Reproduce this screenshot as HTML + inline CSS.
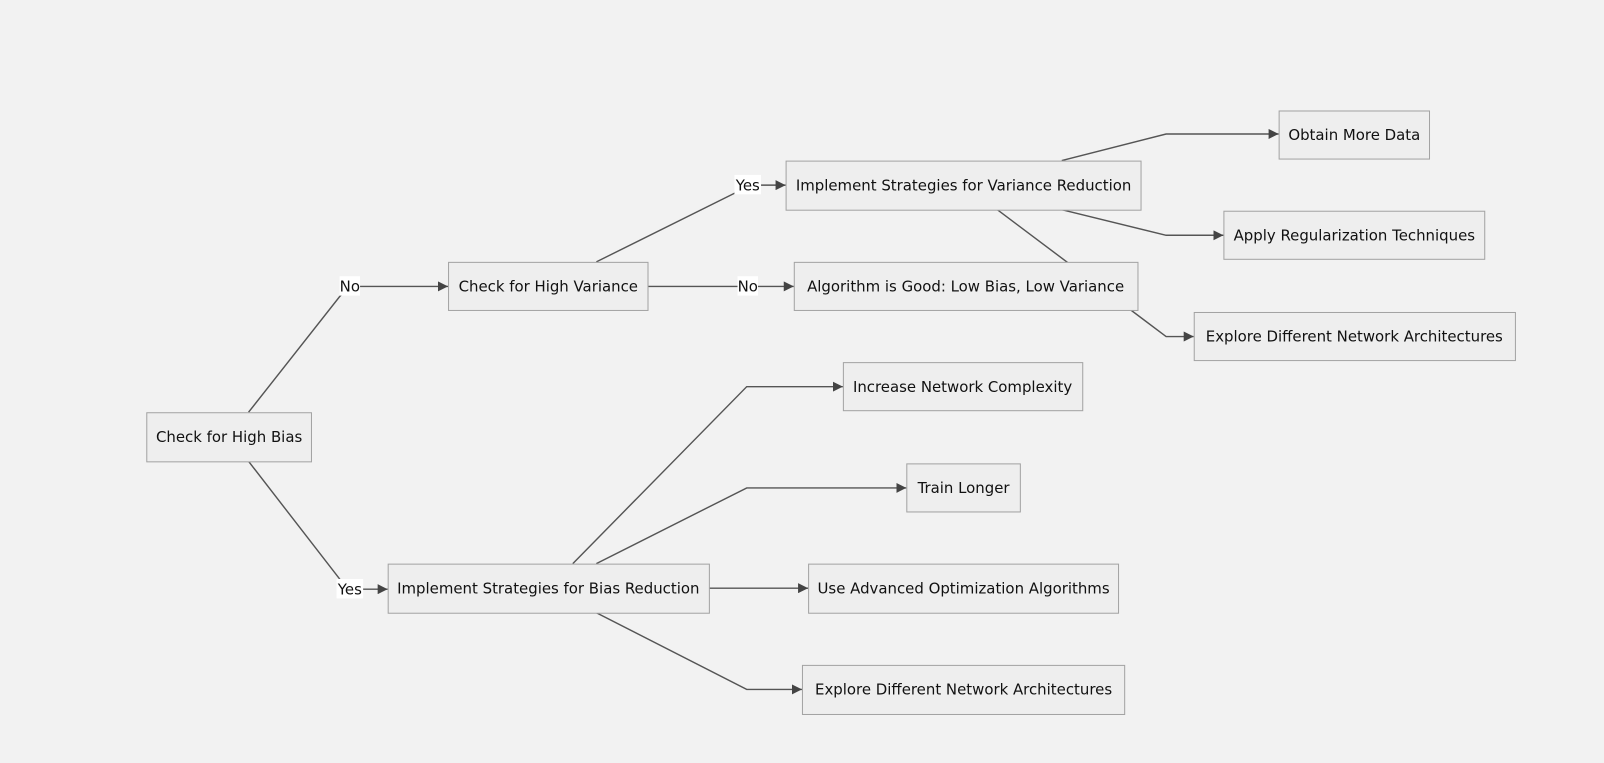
<!DOCTYPE html>
<html><head><style>
html,body{margin:0;padding:0;background:#f2f2f2;}
svg{display:block;}
text{font-family:"DejaVu Sans","Liberation Sans",sans-serif;font-size:14.6px;fill:#111;}
.b{fill:#eeeeee;stroke:#a3a3a3;stroke-width:1;}
.e{fill:none;stroke:#555;stroke-width:1.4;}
.l{fill:#fff;stroke:none;}
</style></head><body>
<svg width="1604" height="763" viewBox="0 0 1604 763">
<defs><marker id="a" viewBox="0 0 10 10" refX="10" refY="5" markerWidth="7" markerHeight="7" orient="auto"><path d="M0,0L10,5L0,10z" fill="#444"/></marker></defs>
<g transform="scale(1.0229)">
<polyline class="e" points="243,403 332,290 342,280 438,280" marker-end="url(#a)"/>
<polyline class="e" points="243,451 332,566 342,576 379,576" marker-end="url(#a)"/>
<polyline class="e" points="583,256 720,188 731,181 768,181" marker-end="url(#a)"/>
<polyline class="e" points="633,280 776,280" marker-end="url(#a)"/>
<polyline class="e" points="1038,157 1140,131 1250,131" marker-end="url(#a)"/>
<polyline class="e" points="1038,205 1140,230 1196,230" marker-end="url(#a)"/>
<polyline class="e" points="975,205 1140,329 1167,329" marker-end="url(#a)"/>
<polyline class="e" points="560,551 730,378 824,378" marker-end="url(#a)"/>
<polyline class="e" points="583,551 730,477 886,477" marker-end="url(#a)"/>
<polyline class="e" points="693,575 790,575" marker-end="url(#a)"/>
<polyline class="e" points="583,599 730,674 784,674" marker-end="url(#a)"/>
<rect class="l" x="332" y="270" width="20" height="19"/><text x="342" y="285" text-anchor="middle">No</text>
<rect class="l" x="329" y="566" width="26" height="19"/><text x="342" y="581" text-anchor="middle">Yes</text>
<rect class="l" x="718" y="171" width="26" height="19"/><text x="731" y="186" text-anchor="middle">Yes</text>
<rect class="l" x="721" y="270" width="20" height="19"/><text x="731" y="285" text-anchor="middle">No</text>
<rect class="b" x="143.5" y="403.5" width="161" height="48"/><text x="224" y="432" text-anchor="middle">Check for High Bias</text>
<rect class="b" x="438.5" y="256.5" width="195" height="47"/><text x="536" y="285" text-anchor="middle">Check for High Variance</text>
<rect class="b" x="768.5" y="157.5" width="347" height="48"/><text x="942" y="186" text-anchor="middle">Implement Strategies for Variance Reduction</text>
<rect class="b" x="776.5" y="256.5" width="336" height="47"/><text x="944" y="285" text-anchor="middle">Algorithm is Good: Low Bias, Low Variance</text>
<rect class="b" x="1250.5" y="108.5" width="147" height="47"/><text x="1324" y="137" text-anchor="middle">Obtain More Data</text>
<rect class="b" x="1196.5" y="206.5" width="255" height="47"/><text x="1324" y="235" text-anchor="middle">Apply Regularization Techniques</text>
<rect class="b" x="1167.5" y="305.5" width="314" height="47"/><text x="1324" y="334" text-anchor="middle">Explore Different Network Architectures</text>
<rect class="b" x="824.5" y="354.5" width="234" height="47"/><text x="941" y="383" text-anchor="middle">Increase Network Complexity</text>
<rect class="b" x="886.5" y="453.5" width="111" height="47"/><text x="942" y="482" text-anchor="middle">Train Longer</text>
<rect class="b" x="379.5" y="551.5" width="314" height="48"/><text x="536" y="580" text-anchor="middle">Implement Strategies for Bias Reduction</text>
<rect class="b" x="790.5" y="551.5" width="303" height="48"/><text x="942" y="580" text-anchor="middle">Use Advanced Optimization Algorithms</text>
<rect class="b" x="784.5" y="650.5" width="315" height="48"/><text x="942" y="679" text-anchor="middle">Explore Different Network Architectures</text>
</g>
</svg>
</body></html>
